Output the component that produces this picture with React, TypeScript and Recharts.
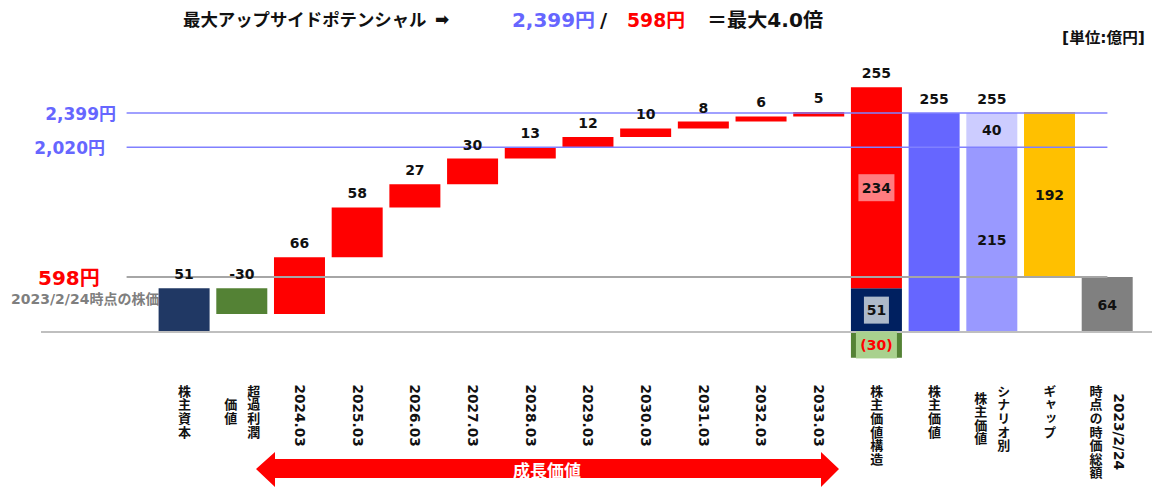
import React from 'react';
import { Bar, Cell, ComposedChart, LabelList, ReferenceLine, XAxis, YAxis } from 'recharts';

// 億円
const categories = [
  '株主資本',
  '超過利潤\n価値',
  '2024.03',
  '2025.03',
  '2026.03',
  '2027.03',
  '2028.03',
  '2029.03',
  '2030.03',
  '2031.03',
  '2032.03',
  '2033.03',
  '株主価値構造',
  '株主価値',
  'シナリオ別\n株主価値',
  'ギャップ',
  '2023/2/24\n時点の時価総額',
];
const steps = [51, -30, 66, 58, 27, 30, 13, 12, 10, 8, 6, 5];
const structureParts = [51, 234, -30]; // 株主資本, 成長価値, 超過利潤価値
const structureTotal = 255;
const shareholderValue = 255;
const scenarioParts = [215, 40];
const marketCap = 64;
const gap = 192;

const priceLines = [
  { value: 255, text: '2,399円' },
  { value: 215, text: '2,020円' },
  { value: 64, text: '598円' },
];

const RED = '#FF0000';
const GREEN = '#548235';

type Row = { name: string; pad: number; a: number; b: number; neg: number };

const rows: Row[] = [];
const topLabels: (string | null)[] = [];
let run = 0;
steps.forEach((v, i) => {
  rows.push({ name: categories[i], pad: v >= 0 ? run : run + v, a: Math.abs(v), b: 0, neg: 0 });
  topLabels.push(String(v));
  run += v;
});
rows.push({ name: categories[12], pad: 0, a: structureParts[0], b: structureParts[1], neg: structureParts[2] });
topLabels.push(String(structureTotal));
rows.push({ name: categories[13], pad: 0, a: shareholderValue, b: 0, neg: 0 });
topLabels.push(String(shareholderValue));
rows.push({ name: categories[14], pad: 0, a: scenarioParts[0], b: scenarioParts[1], neg: 0 });
topLabels.push(String(scenarioParts[0] + scenarioParts[1]));
rows.push({ name: categories[15], pad: marketCap, a: gap, b: 0, neg: 0 });
topLabels.push(null);
rows.push({ name: categories[16], pad: 0, a: marketCap, b: 0, neg: 0 });
topLabels.push(null);

const aColors = [
  '#203864', GREEN, RED, RED, RED, RED, RED, RED, RED, RED, RED, RED,
  '#002060', '#6666FF', '#9999FF', '#FFC000', '#808080',
];
const bColors = rows.map((_, i) => (i === 12 ? RED : i === 14 ? '#CCCCFF' : 'transparent'));
const negColors = rows.map((_, i) => (i === 12 ? GREEN : 'transparent'));

type Inner = { text: string; box?: string; w?: number; color?: string } | null;
const aInner: Inner[] = rows.map((_, i) => {
  if (i === 12) return { text: String(structureParts[0]), box: '#ADB9CA', w: 25 };
  if (i === 14) return { text: String(scenarioParts[0]) };
  if (i === 15) return { text: String(gap) };
  if (i === 16) return { text: String(marketCap) };
  return null;
});
const bInner: Inner[] = rows.map((_, i) => {
  if (i === 12) return { text: String(structureParts[1]), box: '#FF7C80', w: 36 };
  if (i === 14) return { text: String(scenarioParts[1]) };
  return null;
});
const negInner: Inner[] = rows.map((_, i) =>
  i === 12 ? { text: `(${Math.abs(structureParts[2])})`, box: '#A9D18E', w: 41, color: RED } : null
);

const latinFont = "'DejaVu Sans', 'Noto Sans CJK JP', sans-serif";
const cjkFont = "'Noto Sans CJK JP', sans-serif";
const valueFont: React.CSSProperties = { fontFamily: latinFont, fontWeight: 700, fontSize: 14 };

// label content gets the category name as value -> row index
const rowOf = (p: any) => categories.indexOf(String(p.value));

const labelRenderer = (series: 'a' | 'b' | 'neg', list: Inner[]) => (p: any) => {
  const i = rowOf(p);
  if (i < 0) return null;
  const item = list[i];
  const cx = p.x + p.width / 2;
  const cy = p.y + p.height / 2;
  const isTop = (series === 'a' && rows[i].b === 0) || (series === 'b' && rows[i].b > 0);
  const top = isTop ? topLabels[i] : null;
  return (
    <g>
      {item && item.box && <rect x={cx - (item.w || 30) / 2} y={cy - 13.5} width={item.w} height={27} fill={item.box} />}
      {item && (
        <text x={cx} y={cy} textAnchor="middle" dominantBaseline="central" fill={item.color || '#111'} style={valueFont}>
          {item.text}
        </text>
      )}
      {top && (
        <text x={cx} y={Math.min(p.y, p.y + p.height) - 14} textAnchor="middle" dominantBaseline="central" fill="#111" style={valueFont}>
          {top}
        </text>
      )}
    </g>
  );
};

const CJK_STEP = 13.6;
const isCjk = (s: string) => /[\u3000-\u9fff]/.test(s);
const lineLen = (s: string) =>
  isCjk(s)
    ? s.length * CJK_STEP
    : Array.from(s).reduce((acc, ch) => acc + (/[0-9]/.test(ch) ? 9.55 : 5.2), 0);

const CategoryTick = (props: any) => {
  const { x, y, payload } = props;
  const lines = String(payload.value).split('\n');
  const maxLen = Math.max(...lines.map(lineLen));
  const top0 = y + 10;
  return (
    <g fill="#111" fontWeight={700}>
      {lines.map((ln, i) => {
        const cx = x + (lines.length - 1) * 11.5 - i * 23;
        const top = top0 + (maxLen - lineLen(ln)) / 2;
        if (!isCjk(ln)) {
          return (
            <text
              key={i}
              transform={`translate(${cx},${top}) rotate(90)`}
              dominantBaseline="central"
              style={{ fontFamily: latinFont, fontSize: 13.7 }}
            >
              {ln}
            </text>
          );
        }
        return (
          <text
            key={i}
            x={cx}
            y={top}
            style={{ writingMode: 'vertical-rl', fontFamily: cjkFont, fontSize: 13, letterSpacing: CJK_STEP - 13 }}
          >
            {ln}
          </text>
        );
      })}
    </g>
  );
};

const lineColors = ['#8080FF', '#8080FF', '#A6A6A6'];
const lineWidths = [1.5, 1.5, 2];

const priceLabel = (i: number) => (p: any) => {
  const y = p.viewBox.y;
  if (i === 2) {
    return (
      <g>
        <text x={38} y={y + 1} dominantBaseline="central" fill={RED} style={{ ...valueFont, fontSize: 20 }}>
          {priceLines[i].text}
        </text>
        <text x={11} y={y + 22} dominantBaseline="central" fill="#7F7F7F" style={{ ...valueFont, fontSize: 14 }}>
          2023/2/24時点の株価
        </text>
      </g>
    );
  }
  return (
    <text
      x={i === 0 ? 116 : 105}
      y={y + 1}
      textAnchor="end"
      dominantBaseline="central"
      fill="#6666FF"
      style={{ ...valueFont, fontSize: 17 }}
    >
      {priceLines[i].text}
    </text>
  );
};

export default function App() {
  return (
    <div style={{ position: 'absolute', left: 0, top: 0, width: 1152, height: 490, background: '#fff' }}>
      <ComposedChart
        width={1152}
        height={490}
        data={rows}
        stackOffset="sign"
        margin={{ top: 82.9, right: 15.6, bottom: 13.6, left: 155.6 }}
      >
        <XAxis dataKey="name" interval={0} axisLine={false} tickLine={false} height={110} tick={<CategoryTick />} />
        <YAxis hide domain={[-40, 290]} />
        <Bar dataKey="pad" stackId="w" fill="transparent" barSize={51} isAnimationActive={false} />
        <Bar dataKey="a" stackId="w" barSize={51} isAnimationActive={false}>
          {rows.map((_, i) => (
            <Cell key={i} fill={aColors[i]} />
          ))}
          <LabelList dataKey="name" content={labelRenderer('a', aInner)} />
        </Bar>
        <Bar dataKey="b" stackId="w" barSize={51} isAnimationActive={false}>
          {rows.map((_, i) => (
            <Cell key={i} fill={bColors[i]} />
          ))}
          <LabelList dataKey="name" content={labelRenderer('b', bInner)} />
        </Bar>
        <Bar dataKey="neg" stackId="w" barSize={51} isAnimationActive={false}>
          {rows.map((_, i) => (
            <Cell key={i} fill={negColors[i]} />
          ))}
          <LabelList dataKey="name" content={labelRenderer('neg', negInner)} />
        </Bar>
        <ReferenceLine
          y={0}
          shape={(p: any) => <line x1={41} y1={p.y1} x2={1152} y2={p.y2} stroke="#BFBFBF" strokeWidth={2} />}
        />
        {priceLines.map((pl, i) => (
          <ReferenceLine
            key={pl.text}
            y={pl.value}
            label={priceLabel(i)}
            shape={(p: any) => (
              <line x1={p.x1 - 29} y1={p.y1} x2={p.x2 - 29} y2={p.y2} stroke={lineColors[i]} strokeWidth={lineWidths[i]} />
            )}
          />
        ))}
      </ComposedChart>
      <svg width={1152} height={490} style={{ position: 'absolute', left: 0, top: 0, pointerEvents: 'none' }}>
        <g style={{ fontFamily: latinFont, fontWeight: 700 }}>
          <text x={183} y={26} fontSize={17.4} fill="#111" style={{ fontFamily: cjkFont }}>
            最大アップサイドポテンシャル
            <tspan x={435} y={25} fontSize={17} style={{ fontFamily: latinFont }}>➡</tspan>
          </text>
          <text x={512} y={26.5} fontSize={19.5} fill="#6666FF" textLength={83} lengthAdjust="spacingAndGlyphs">2,399円</text>
          <text x={600} y={26.5} fontSize={19.5} fill="#111">/</text>
          <text x={627} y={26.5} fontSize={19.5} fill={RED} textLength={58} lengthAdjust="spacingAndGlyphs">598円</text>
          <text x={707} y={26.5} fontSize={19.5} fill="#111" textLength={116} lengthAdjust="spacingAndGlyphs">＝最大4.0倍</text>
          <text x={1062} y={43} fontSize={15} fill="#111" textLength={83} lengthAdjust="spacingAndGlyphs">[単位:億円]</text>
        </g>
        <polygon
          points="256,469 275,452 275,459 821,459 821,452 839,469 821,487 821,478 275,478 275,487"
          fill={RED}
        />
        <text x={547} y={469} textAnchor="middle" dominantBaseline="central" fill="#fff" fontSize={17} fontWeight={700} style={{ fontFamily: cjkFont }}>
          成長価値
        </text>
      </svg>
    </div>
  );
}
